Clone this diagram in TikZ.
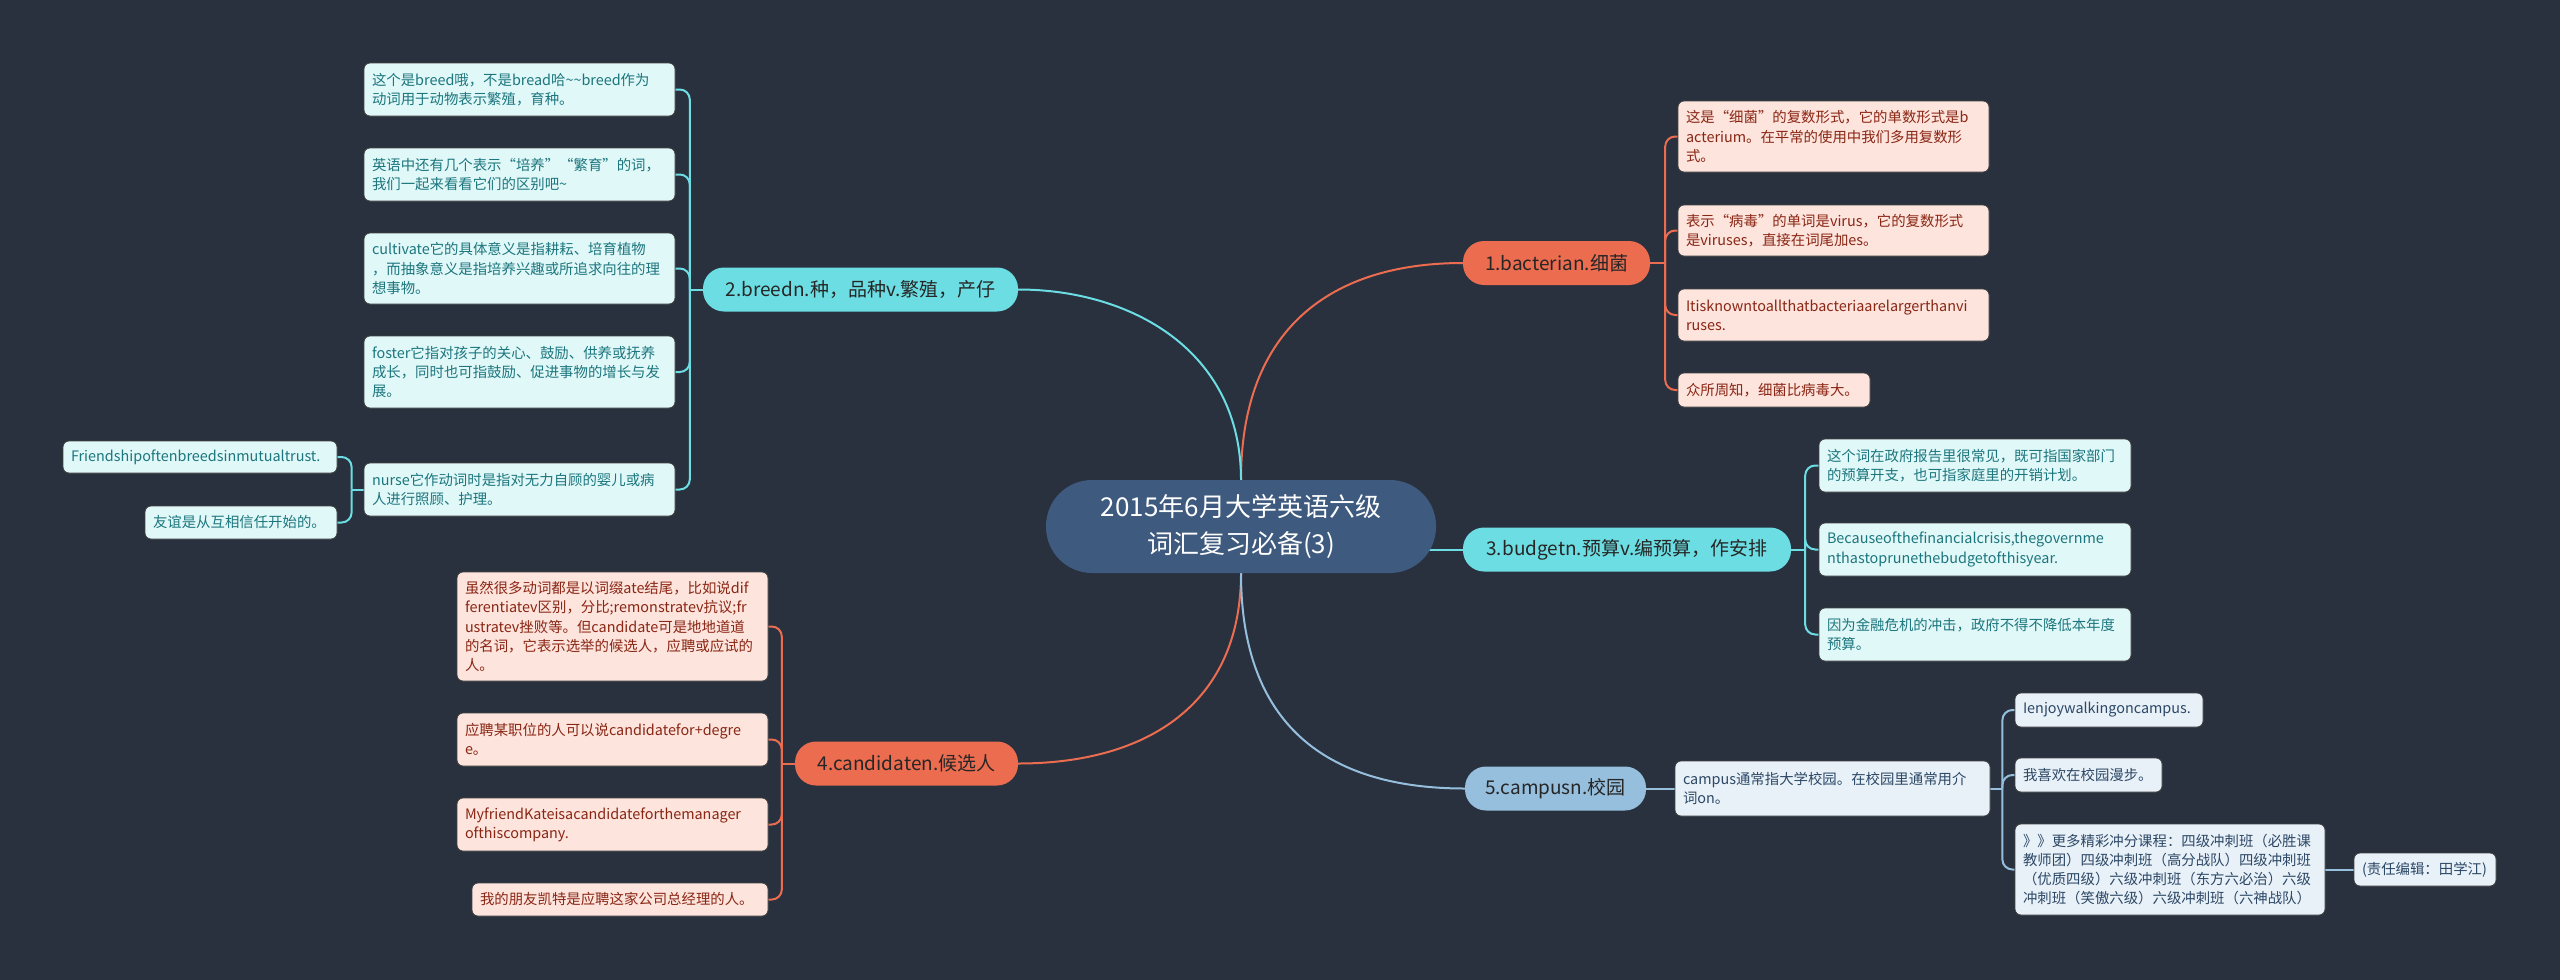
\documentclass[tikz,border=0pt]{standalone}
\usepackage{fontspec}
\setmainfont{Noto Sans CJK SC}
\usepackage{xcolor}
\definecolor{mmbg}{RGB}{41,49,63}
\definecolor{mmroot}{RGB}{62,90,126}
\definecolor{mmcoral}{RGB}{236,108,80}
\definecolor{mmcyan}{RGB}{108,222,227}
\definecolor{mmblue}{RGB}{150,191,221}
\definecolor{mmcoralbg}{RGB}{253,228,221}
\definecolor{mmcoraltx}{RGB}{138,38,20}
\definecolor{mmcyanbg}{RGB}{225,248,248}
\definecolor{mmcyantx}{RGB}{28,118,126}
\definecolor{mmbluebg}{RGB}{233,241,248}
\definecolor{mmbluetx}{RGB}{44,72,102}
\usepackage{tikz}
\pgfdeclarelayer{back}
\pgfdeclarelayer{links}
\pgfsetlayers{back,links,main}
\newcommand{\leaffnt}{\fontsize{14.4}{19.2}\selectfont}
\newcommand{\brfnt}{\fontsize{19}{24}\selectfont}
\newcommand{\rootfnt}{\fontsize{26}{37}\selectfont}
\hyphenpenalty=10000

\begin{document}
\begin{tikzpicture}[x=1pt,y=1pt,
  leaf/.style={rounded corners=6pt,draw=black!75,line width=0.8pt,inner xsep=8pt,inner ysep=3pt,align=left,font=\leaffnt},
  lc/.style={leaf,fill=mmcoralbg,text=mmcoraltx},
  lt/.style={leaf,fill=mmcyanbg,text=mmcyantx},
  lb/.style={leaf,fill=mmbluebg,text=mmbluetx},
  pill/.style={rounded corners=21pt,minimum height=44pt,inner xsep=12pt,font=\brfnt,text=black!85},
  lnc/.style={draw=mmcoral,line width=2pt},
  lnt/.style={draw=mmcyan,line width=2pt},
  lnb/.style={draw=mmblue,line width=2pt}]
% ---- MAPA: slownictwo CET-6 (3) ----
\begin{pgfonlayer}{back}
\fill[mmbg] (0,0) rectangle (2560,-980);
\end{pgfonlayer}
\node[fill=mmroot,rounded corners=46pt,minimum width=390pt,minimum height=93pt,align=center,font=\rootfnt,text=white] (root) at (1241,-526.5) {2015年6月大学英语六级\\词汇复习必备(3)};
% galezie
\node[pill,fill=mmcoral,minimum width=187pt] (b1) at (1556.5,-263) {1.bacterian.细菌};
\node[pill,fill=mmcyan,minimum width=315pt] (b2) at (860.5,-289.5) {2.breedn.种，品种v.繁殖，产仔};
\node[pill,fill=mmcyan,minimum width=328pt] (b3) at (1627,-549.5) {3.budgetn.预算v.编预算，作安排};
\node[pill,fill=mmcoral,minimum width=223pt] (b4) at (906.5,-763.5) {4.candidaten.候选人};
\node[pill,fill=mmblue,minimum width=181pt] (b5) at (1555.5,-788.5) {5.campusn.校园};
% 1. bacterian
\node[lc,text width=295pt,minimum height=71pt] (l1a) at (1833.5,-136.5) {这是“细菌”的复数形式，它的单数形式是b\\acterium。在平常的使用中我们多用复数形\\式。};
\node[lc,text width=295pt,minimum height=51pt] (l1b) at (1833.5,-230.5) {表示“病毒”的单词是virus，它的复数形式\\是viruses，直接在词尾加es。};
\node[lc,text width=295pt,minimum height=52pt] (l1c) at (1833.5,-315) {Itisknowntoallthatbacteriaarelargerthanvi\\ruses.};
\node[lc,text width=176pt,minimum height=34pt] (l1d) at (1774,-390) {众所周知，细菌比病毒大。};
% 2. breed
\node[lt,text width=295pt,minimum height=53pt] (l2a) at (519.5,-89.5) {这个是breed哦，不是bread哈\textasciitilde\textasciitilde breed作为\\动词用于动物表示繁殖，育种。};
\node[lt,text width=295pt,minimum height=53pt] (l2b) at (519.5,-174.5) {英语中还有几个表示“培养”“繁育”的词，\\我们一起来看看它们的区别吧\textasciitilde};
\node[lt,text width=295pt,minimum height=71pt] (l2c) at (519.5,-268.5) {cultivate它的具体意义是指耕耘、培育植物\\，而抽象意义是指培养兴趣或所追求向往的理\\想事物。};
\node[lt,text width=295pt,minimum height=72pt] (l2d) at (519.5,-372) {foster它指对孩子的关心、鼓励、供养或抚养\\成长，同时也可指鼓励、促进事物的增长与发\\展。};
\node[lt,text width=295pt,minimum height=53pt] (l2e) at (519.5,-489.5) {nurse它作动词时是指对无力自顾的婴儿或病\\人进行照顾、护理。};
\node[lt,text width=258pt,minimum height=32pt] (l2f) at (200,-457) {Friendshipoftenbreedsinmutualtrust.};
\node[lt,text width=176pt,minimum height=33pt] (l2g) at (241,-522.5) {友谊是从互相信任开始的。};
% 3. budget
\node[lt,text width=296pt,minimum height=53pt] (l3a) at (1975,-465.5) {这个词在政府报告里很常见，既可指国家部门\\的预算开支，也可指家庭里的开销计划。};
\node[lt,text width=296pt,minimum height=53pt] (l3b) at (1975,-549.5) {Becauseofthefinancialcrisis,thegovernme\\nthastoprunethebudgetofthisyear.};
\node[lt,text width=296pt,minimum height=53pt] (l3c) at (1975,-634.5) {因为金融危机的冲击，政府不得不降低本年度\\预算。};
% 4. candidate
\node[lc,text width=295pt,minimum height=109pt] (l4a) at (612.5,-626.5) {虽然很多动词都是以词缀ate结尾，比如说dif\\ferentiatev区别，分比;remonstratev抗议;fr\\ustratev挫败等。但candidate可是地地道道\\的名词，它表示选举的候选人，应聘或应试的\\人。};
\node[lc,text width=295pt,minimum height=53pt] (l4b) at (612.5,-739.5) {应聘某职位的人可以说candidatefor+degre\\e。};
\node[lc,text width=295pt,minimum height=53pt] (l4c) at (612.5,-824.5) {MyfriendKateisacandidateforthemanager\\ofthiscompany.};
\node[lc,text width=280pt,minimum height=33pt] (l4d) at (620,-899.5) {我的朋友凯特是应聘这家公司总经理的人。};
% 5. campus
\node[lb,text width=299pt,minimum height=55pt] (l5a) at (1832.5,-788.5) {campus通常指大学校园。在校园里通常用介\\词on。};
\node[lb,text width=172pt,minimum height=34pt] (l5b) at (2109,-710) {Ienjoywalkingoncampus.};
\node[lb,text width=131pt,minimum height=34pt] (l5c) at (2088.5,-775) {我喜欢在校园漫步。};
\node[lb,text width=294pt,minimum height=91pt] (l5d) at (2170,-869.5) {》》更多精彩冲分课程：四级冲刺班（必胜课\\教师团）四级冲刺班（高分战队）四级冲刺班\\（优质四级）六级冲刺班（东方六必治）六级\\冲刺班（笑傲六级）六级冲刺班（六神战队）};
\node[lb,text width=126pt,minimum height=33pt] (l5e) at (2425,-869.5) {(责任编辑：田学江)};
% polaczenia
\begin{pgfonlayer}{links}
\draw[lnc] (root.north) .. controls +(0,150) and +(-133,0) .. (b1.west);
\draw[lnt] (root.north) .. controls +(0,130) and +(112,0) .. (b2.east);
\draw[lnt] (root.center |- b3.west) -- (b3.west);
\draw[lnc] (root.south) .. controls +(0,-130) and +(130,0) .. (b4.east);
\draw[lnb] (root.south) .. controls +(0,-150) and +(-140,0) .. (b5.west);
\coordinate (j1) at ([xshift=15pt]b1.east);
\coordinate (j2) at ([xshift=-13pt]b2.west);
\coordinate (j3) at ([xshift=14pt]b3.east);
\coordinate (j4) at ([xshift=-13pt]b4.west);
\coordinate (j5) at ([xshift=12pt]l5a.east);
\coordinate (jn) at ([xshift=-12pt]l2e.west);
\draw[lnc] (b1.east) -- (j1);
\draw[lnt] (b2.west) -- (j2);
\draw[lnt] (b3.east) -- (j3);
\draw[lnc] (b4.west) -- (j4);
\draw[lnt] (l2e.west) -- (jn);
\draw[lnb] (b5.east) -- (l5a.west);
\draw[lnb] (l5a.east) -- (j5);
\foreach \n in {l1a,l1b,l1c,l1d} \draw[lnc,rounded corners=10pt] (j1) |- (\n.west);
\foreach \n in {l2a,l2b,l2c,l2d,l2e} \draw[lnt,rounded corners=10pt] (j2) |- (\n.east);
\foreach \n in {l2f,l2g} \draw[lnt,rounded corners=10pt] (jn) |- (\n.east);
\foreach \n in {l3a,l3b,l3c} \draw[lnt,rounded corners=10pt] (j3) |- (\n.west);
\foreach \n in {l4a,l4b,l4c,l4d} \draw[lnc,rounded corners=10pt] (j4) |- (\n.east);
\foreach \n in {l5b,l5c,l5d} \draw[lnb,rounded corners=10pt] (j5) |- (\n.west);
\draw[lnb] (l5d.east) -- (l5e.west);
\end{pgfonlayer}
\end{tikzpicture}
\end{document}
